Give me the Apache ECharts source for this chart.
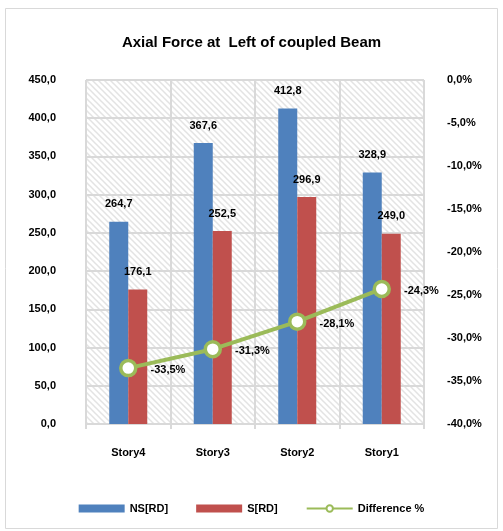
<!DOCTYPE html>
<html>
<head>
<meta charset="utf-8">
<script src="https://cdn.jsdelivr.net/npm/echarts@6/dist/echarts.min.js"></script>
<style>
  html, body { margin: 0; padding: 0; background: #fff; }
  #chart { width: 503px; height: 531px; }
</style>
</head>
<body>
<div id="chart"></div>
<script>
// 数据
const categories = ["Story4", "Story3", "Story2", "Story1"];
const nsValues = [264.7, 367.6, 412.8, 328.9];
const sValues = [176.1, 252.5, 296.9, 249.0];
const diffValues = [-33.5, -31.3, -28.1, -24.3];

const FONT = "Liberation Sans";
const comma = v => v.toFixed(1).replace(".", ",");

// 斜线底纹
function makeHatch() {
    const n = 6;
    const c = document.createElement("canvas");
    c.width = n; c.height = n;
    const ctx = c.getContext("2d");
    ctx.fillStyle = "#ffffff";
    ctx.fillRect(0, 0, n, n);
    ctx.strokeStyle = "#e3e3e3";
    ctx.lineWidth = 1.5;
    ctx.beginPath();
    ctx.moveTo(-1, -1); ctx.lineTo(n + 1, n + 1);
    ctx.moveTo(-n - 1, -1); ctx.lineTo(1, n + 1);
    ctx.moveTo(n - 1, -1); ctx.lineTo(2 * n + 1, n + 1);
    ctx.stroke();
    return c;
}

const chart = echarts.init(document.getElementById("chart"));
const option = {
    backgroundColor: "#fff",
    animation: false,
    textStyle: { fontFamily: FONT },
    graphic: [{
        type: "rect",
        shape: { x: 5.5, y: 8.5, width: 492, height: 520 },
        style: { fill: null, stroke: "#d9d9d9", lineWidth: 1 },
        silent: true
    }],
    title: {
        text: "Axial Force at  Left of coupled Beam",
        left: "center",
        top: 30,
        textStyle: { fontFamily: FONT, fontSize: 15, fontWeight: "bold", color: "#000" }
    },
    grid: {
        left: 86, right: 79, top: 80, bottom: 107,
        show: true,
        borderWidth: 0,
        backgroundColor: { image: makeHatch(), repeat: "repeat" }
    },
    legend: {
        bottom: 12,
        left: "center",
        itemGap: 28,
        itemWidth: 46,
        itemHeight: 8,
        textStyle: { fontFamily: FONT, fontSize: 11, fontWeight: "bold", color: "#000" },
        data: [
            { name: "NS[RD]", icon: "rect" },
            { name: "S[RD]", icon: "rect" },
            { name: "Difference %" }
        ]
    },
    xAxis: {
        type: "category",
        data: categories,
        axisLine: { lineStyle: { color: "#d9d9d9", width: 2 } },
        axisTick: { show: true, length: 5, lineStyle: { color: "#d9d9d9", width: 2 } },
        splitLine: { show: true, lineStyle: { color: "#d9d9d9", width: 2 } },
        axisLabel: { margin: 23, fontFamily: FONT, fontSize: 11, fontWeight: "bold", color: "#000" }
    },
    yAxis: [{
        type: "value",
        min: 0, max: 450, interval: 50,
        axisLine: { show: false },
        axisTick: { show: false },
        splitLine: { lineStyle: { color: "#d9d9d9", width: 2 } },
        axisLabel: {
            margin: 30, fontFamily: FONT, fontSize: 11, fontWeight: "bold", color: "#000",
            formatter: v => comma(v)
        }
    }, {
        type: "value",
        min: -40, max: 0, interval: 5,
        axisLine: { show: false },
        axisTick: { show: false },
        splitLine: { show: false },
        axisLabel: {
            margin: 23, fontFamily: FONT, fontSize: 11, fontWeight: "bold", color: "#000",
            formatter: v => comma(v) + "%"
        }
    }],
    series: [{
        name: "NS[RD]",
        type: "bar",
        data: nsValues,
        barWidth: 19,
        barGap: "0%",
        itemStyle: { color: "#4F81BD" },
        label: {
            show: true, position: "top", distance: 12,
            fontFamily: FONT, fontSize: 11, fontWeight: "bold", color: "#000",
            formatter: p => comma(p.value)
        }
    }, {
        name: "S[RD]",
        type: "bar",
        data: sValues,
        barWidth: 19,
        itemStyle: { color: "#C0504D" },
        label: {
            show: true, position: "top", distance: 12,
            fontFamily: FONT, fontSize: 11, fontWeight: "bold", color: "#000",
            formatter: p => comma(p.value)
        }
    }, {
        name: "Difference %",
        type: "line",
        yAxisIndex: 1,
        data: diffValues,
        symbol: "circle",
        symbolSize: 15,
        itemStyle: { color: "#fff", borderColor: "#9BBB59", borderWidth: 3.5 },
        lineStyle: { color: "#9BBB59", width: 4 },
        label: {
            show: true, position: "right", distance: 13, offset: [0, 2],
            fontFamily: FONT, fontSize: 11, fontWeight: "bold", color: "#000",
            formatter: p => comma(p.value) + "%"
        },
        z: 5
    }]
};
chart.setOption(option);
</script>
</body>
</html>
